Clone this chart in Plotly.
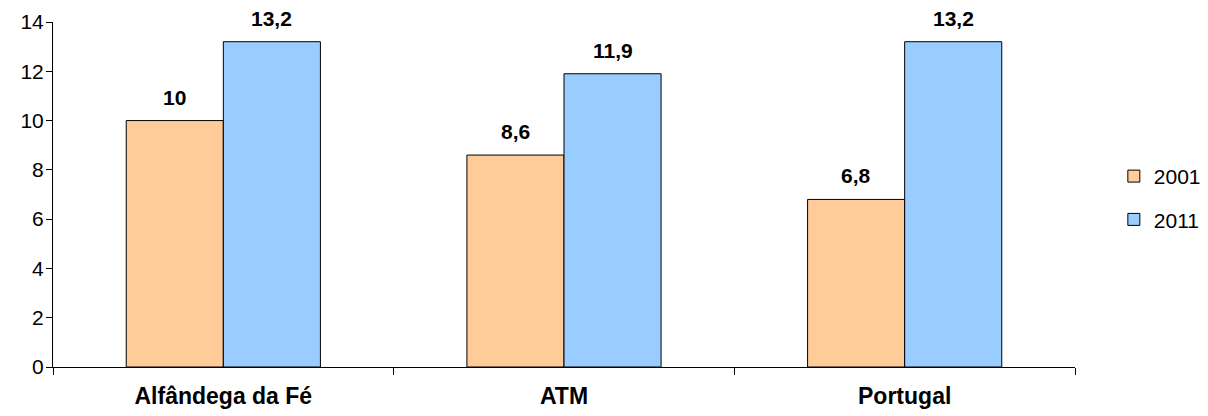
import plotly.graph_objects as go

categories = ["Alfândega da Fé", "ATM", "Portugal"]
series_names = ["2001", "2011"]
values_2001 = [10, 8.6, 6.8]
values_2011 = [13.2, 11.9, 13.2]
y_ticks = [0, 2, 4, 6, 8, 10, 12, 14]

colors = ["#FFCC99", "#99CCFF"]
FONT = "Liberation Sans, Arial, sans-serif"

fig = go.Figure()
for i, (name, vals) in enumerate(zip(series_names, [values_2001, values_2011])):
    fig.add_trace(go.Bar(
        x=categories, y=vals, name=name, legendgroup=name,
        marker=dict(color=colors[i], line=dict(color="#000000", width=1)),
        hoverinfo="x+y",
    ))

def fmt(v):
    return f"{v:g}".replace(".", ",")

W, H = 1200, 408
ML, MR, MT, MB = 45, 133, 14, 49
bargap = 0.43
plot_w = W - ML - MR
bar_px = plot_w / len(categories) * (1 - bargap) / 2
annotations = []
for i, vals in enumerate([values_2001, values_2011]):
    shift = (-0.5 + i) * bar_px
    for c, v in zip(categories, vals):
        annotations.append(dict(
            x=c, y=v, xref="x", yref="y", text="<b>%s</b>" % fmt(v),
            showarrow=False, yanchor="bottom", xanchor="center",
            xshift=shift, yshift=10,
            font=dict(family=FONT, size=21, color="#000000"),
        ))

fig.update_layout(
    width=W, height=H,
    margin=dict(l=ML, r=MR, t=MT, b=MB, pad=0, autoexpand=False),
    paper_bgcolor="white", plot_bgcolor="white",
    barmode="group", bargap=bargap, bargroupgap=0,
    separators=",.",
    font=dict(family=FONT, size=21, color="#000000"),
    showlegend=True,
    legend=dict(x=1.038, y=0.49, xanchor="left", yanchor="middle",
                font=dict(family=FONT, size=21, color="#000000"),
                traceorder="grouped", tracegroupgap=13,
                bgcolor="rgba(0,0,0,0)"),
    annotations=annotations,
    xaxis=dict(
        type="category", showline=True, linecolor="#000000", linewidth=1,
        ticks="outside", tickson="boundaries", ticklen=7, tickcolor="#000000",
        showgrid=False, zeroline=False, automargin=False,
        ticklabelstandoff=8,
        tickfont=dict(family=FONT, size=23, color="#000000", weight="bold"),
    ),
    yaxis=dict(
        range=[0, 14], tickvals=y_ticks, showline=True, linecolor="#000000",
        linewidth=1, ticks="outside", ticklen=6, tickcolor="#000000",
        showgrid=False, zeroline=False, automargin=False,
        ticklabelstandoff=-2,
        tickfont=dict(family=FONT, size=21, color="#000000"),
    ),
)

fig.write_html("out.html")
